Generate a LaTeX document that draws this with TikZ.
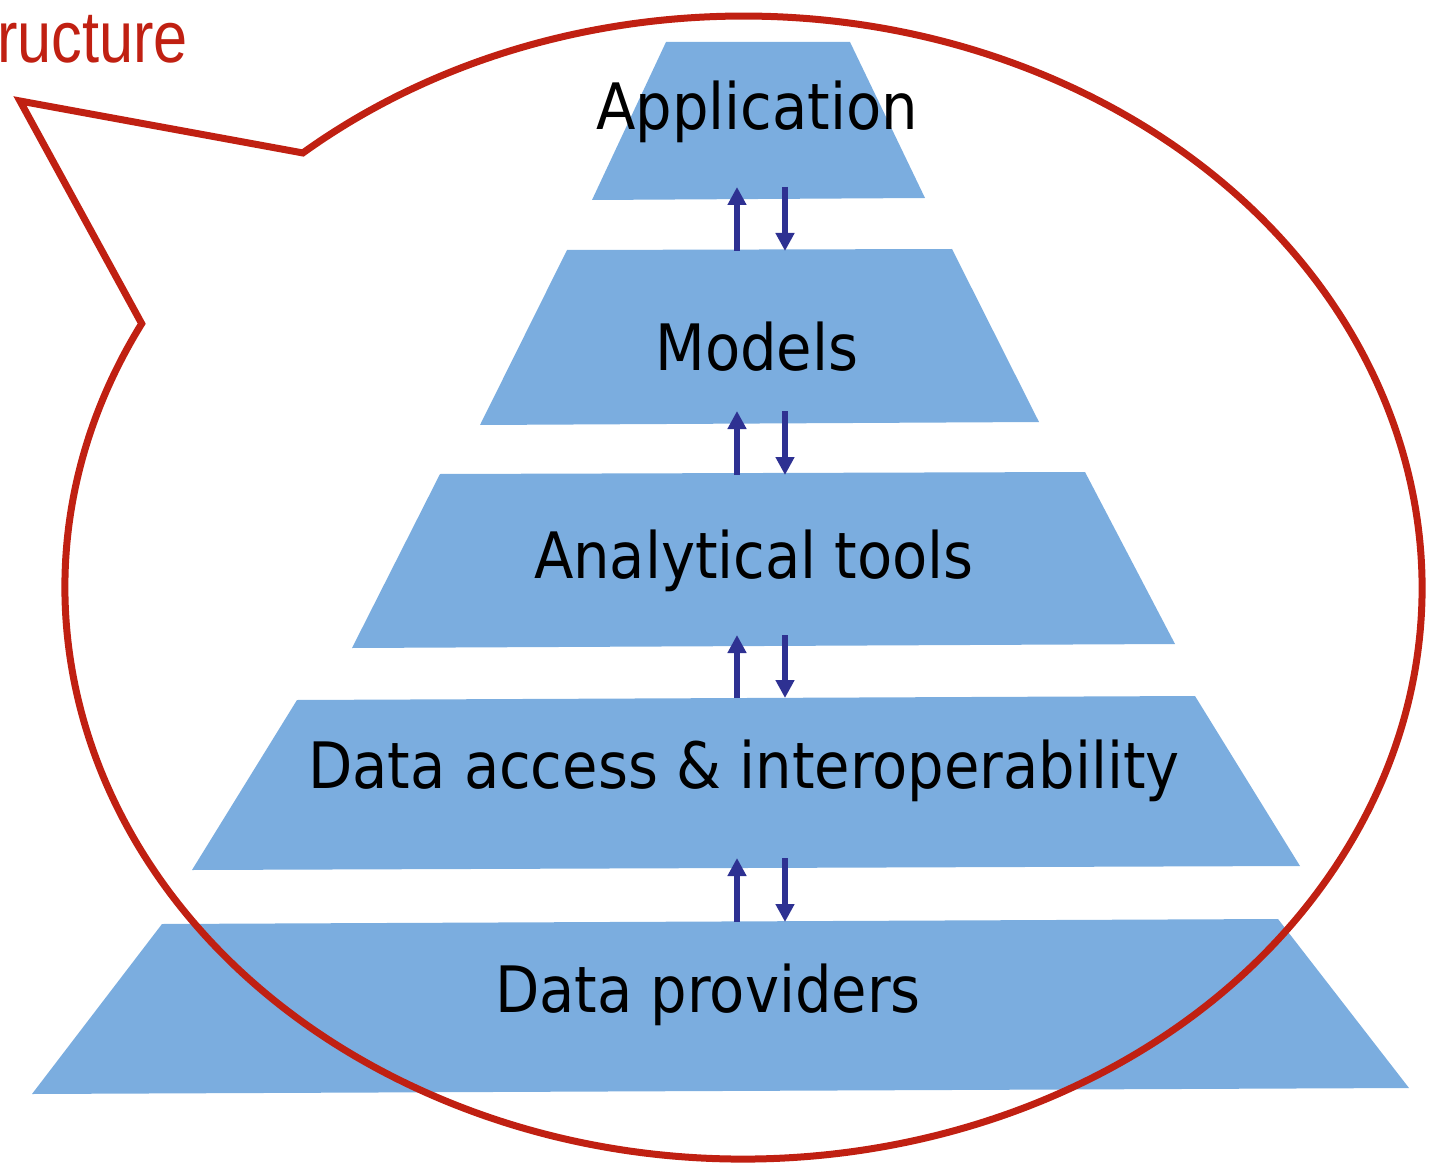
\documentclass[tikz,border=0pt]{standalone}
\usepackage{fontspec}
\setmainfont{DejaVu Sans Condensed}
\newfontfamily\redfont{Liberation Sans}
\usetikzlibrary{arrows.meta,calc}
\definecolor{trapblue}{RGB}{123,173,223}
\definecolor{callred}{RGB}{192,32,18}
\definecolor{arrblue}{RGB}{46,49,146}
\tikzset{
  layer/.style={fill=trapblue},
  lbl/.style={anchor=base,inner sep=0pt,font=\fontsize{64}{70}\selectfont,text=black},
  flow/.style={draw=arrblue,line width=6pt,-{Triangle[length=18pt,width=18pt]}},
  callout/.style={draw=callred,line width=7pt,line join=miter}
}
\begin{document}
\begin{tikzpicture}[x=1pt,y=1pt]
\useasboundingbox (0,0) rectangle (1435,-1166);
\clip (0,0) rectangle (1435,-1166);
% layers
\fill[layer] (666,-42) -- (850,-42) -- (925,-198) -- (592,-200) -- cycle;
\fill[layer] (567,-250) -- (952,-249) -- (1039,-422) -- (480,-425) -- cycle;
\fill[layer] (440,-474) -- (1085,-472) -- (1175,-644) -- (352,-648) -- cycle;
\fill[layer] (297,-700) -- (1195,-696) -- (1300,-866) -- (192,-870) -- cycle;
\fill[layer] (162,-924) -- (1278,-919) -- (1409,-1088) -- (32,-1094) -- cycle;
% labels
\node[lbl] (app) at (757,-130) {Application};
\node[lbl] (mod) at (757,-370) {Models};
\node[lbl] (ana) at (754,-578) {Analytical tools};
\node[lbl] (dai) at (744,-788) {Data access \& interoperability};
\node[lbl] (dap) at (708,-1012) {Data providers};
% arrow end points
\foreach \i/\t/\b in {1/187/251, 2/411/475, 3/635/698, 4/858/922}{
  \coordinate (u\i b) at (737,-\b);
  \coordinate (u\i t) at (737,-\t);
  \coordinate (d\i t) at (785,-\t);
  \coordinate (d\i b) at (785,-\b);
}
\foreach \i in {1,2,3,4}{
  \draw[flow] (u\i b) -- (u\i t);
  \draw[flow] (d\i t) -- (d\i b);
}
% callout
\coordinate (ctr) at (743.5,-587.5);
\coordinate (tip) at (20,-101);
\draw[callout] ($(ctr)+(152.5:678.5 and 571.5)$)
  arc[start angle=152.5,end angle=490.5,x radius=678.5,y radius=571.5]
  -- (tip) -- cycle;
\node[anchor=base west,inner sep=0pt,text=callred,font=\redfont\fontsize{73}{80}\selectfont] (title) at (-3,-63) {\scalebox{0.84}[1]{ructure}};
\end{tikzpicture}
\end{document}
